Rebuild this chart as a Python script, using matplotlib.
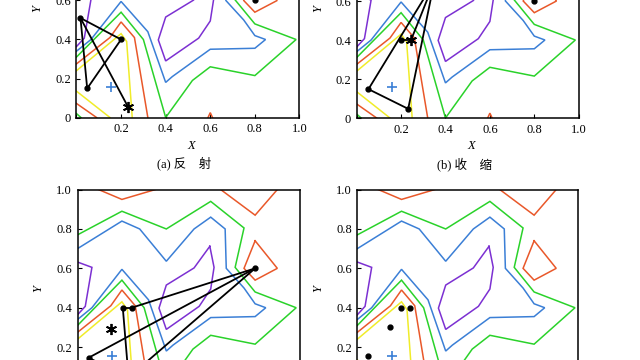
import matplotlib
matplotlib.use('Agg')
import matplotlib.pyplot as plt

plt.rcParams['font.family'] = ['Liberation Serif', 'Noto Sans CJK SC']
plt.rcParams['mathtext.fontset'] = 'stix'

PURPLE = '#7c30d2'
BLUE = '#3b7fd6'
GREEN = '#2ad22a'
ORANGE = '#e9582a'
YELLOW = '#f0ec2a'

# contour lines of the objective, same map in all four panels
purple_left_x = [0, 0.065, 0.035, 0]
purple_left_y = [0.632, 0.605, 0.407, 0.364]
purple_mid_x = [0.596, 0.615, 0.6, 0.548, 0.4, 0.367, 0.4, 0.525, 0.596]
purple_mid_y = [0.712, 0.605, 0.495, 0.407, 0.29, 0.398, 0.515, 0.602, 0.712]

blue_x = [0, 0.065, 0.2, 0.32, 0.40, 0.43, 0.6, 0.8, 0.848, 0.80, 0.75, 0.67, 0.665, 0.6, 0.525, 0.40, 0.28, 0.2, 0]
blue_y = [0.34, 0.40, 0.595, 0.44, 0.18, 0.21, 0.35, 0.355, 0.40, 0.42, 0.50, 0.60, 0.80, 0.86, 0.80, 0.636, 0.80, 0.84, 0.70]

green_x = [0, 0.2, 0.30, 0.40, 0.52, 0.6, 0.8, 0.985, 0.80, 0.71, 0.75, 0.6, 0.4, 0.2, 0]
green_y = [0.31, 0.54, 0.40, 0.0, 0.19, 0.26, 0.215, 0.40, 0.48, 0.605, 0.805, 0.94, 0.80, 0.89, 0.77]
green_corner_x = [0, 0.02]
green_corner_y = [0.02, 0]

orange_x = [0, 0.15, 0.2, 0.26, 0.32]
orange_y = [0.275, 0.41, 0.49, 0.41, 0.0]
orange_corner_x = [0, 0.09]
orange_corner_y = [0.072, 0]
orange_tl_x = [0.095, 0.2, 0.35]
orange_tl_y = [1.0, 0.95, 1.0]
orange_tr_x = [0.645, 0.8, 0.9]
orange_tr_y = [1.0, 0.87, 1.0]
orange_tri_x = [0.8, 0.9, 0.8, 0.75, 0.8]
orange_tri_y = [0.74, 0.6, 0.54, 0.6, 0.74]
orange_bot_x = [0.59, 0.6, 0.61]
orange_bot_y = [0, 0.025, 0]

yellow_x = [0, 0.2, 0.225, 0.25]
yellow_y = [0.24, 0.43, 0.39, 0.0]
yellow_corner_x = [0, 0.15]
yellow_corner_y = [0.135, 0]

# optimum (+) and far vertex
opt_x, opt_y = 0.157, 0.157
far_x, far_y = 0.8, 0.6

# (a) reflection
a_vx = [0.018, 0.2, 0.048]
a_vy = [0.51, 0.40, 0.149]
a_star = (0.231, 0.055)

# (b) contraction
b_vx = [0.35, 0.053, 0.232]
b_vy = [0.70, 0.148, 0.047]
b_star = (0.245, 0.40)
b_dot = (0.2, 0.40)

# (c)
c_dx = [0.8, 0.204, 0.244, 0.05, 0.23]
c_dy = [0.6, 0.40, 0.40, 0.146, 0.046]
c_star = (0.15, 0.29)

# (d)
d_dx = [0.198, 0.238, 0.148, 0.05]
d_dy = [0.40, 0.40, 0.30, 0.153]

contours = [
    (purple_left_x, purple_left_y, PURPLE), (purple_mid_x, purple_mid_y, PURPLE),
    (blue_x, blue_y, BLUE),
    (green_x, green_y, GREEN), (green_corner_x, green_corner_y, GREEN),
    (orange_x, orange_y, ORANGE), (orange_corner_x, orange_corner_y, ORANGE),
    (orange_tl_x, orange_tl_y, ORANGE), (orange_tr_x, orange_tr_y, ORANGE),
    (orange_tri_x, orange_tri_y, ORANGE), (orange_bot_x, orange_bot_y, ORANGE),
    (yellow_x, yellow_y, YELLOW), (yellow_corner_x, yellow_corner_y, YELLOW),
]

ticks = [0, 0.2, 0.4, 0.6, 0.8, 1.0]
xlabels = ['', '0.2', '0.4', '0.6', '0.8', '1.0']
ylabels = ['0', '0.2', '0.4', '0.6', '0.8', '1.0']

STAR = (6, 2, 0)


def setup(ax, ylab_y=0.5, ylab_x=-0.175, caption=None):
    for xs, ys, col in contours:
        ax.plot(xs, ys, color=col, lw=1.1, solid_joinstyle='miter', zorder=2)
    ax.plot(opt_x, opt_y, marker='+', color=BLUE, ms=7, mew=1.2, zorder=4)
    ax.set_xlim(0, 1)
    ax.set_ylim(0, 1)
    ax.set_xticks(ticks)
    ax.set_xticklabels(xlabels)
    ax.set_yticks(ticks)
    ax.set_yticklabels(ylabels)
    ax.tick_params(direction='in', length=3, width=0.8, labelsize=9, pad=4)
    for s in ax.spines.values():
        s.set_linewidth(1.1)
    ax.text(0.515, -0.145, 'X', transform=ax.transAxes, ha='center', va='center',
            fontsize=9, style='italic')
    ax.text(ylab_x, ylab_y, 'Y', transform=ax.transAxes, ha='center', va='center',
            fontsize=9, style='italic', rotation=90)
    if caption:
        ax.text(0.485, -0.237, caption, transform=ax.transAxes, ha='center',
                va='center', fontsize=9)


def dots(ax, xs, ys):
    ax.plot(xs, ys, 'o', color='black', ms=3.5, zorder=5)


def seg(ax, p, q):
    ax.plot([p[0], q[0]], [p[1], q[1]], color='black', lw=1.3, zorder=3)


fig = plt.figure(figsize=(6.4, 3.6), dpi=100)
ax_a = fig.add_axes([0.1195, 0.6736, 0.3484, 0.5417])
ax_b = fig.add_axes([0.5573, 0.6722, 0.3469, 0.5417])
ax_c = fig.add_axes([0.1211, -0.0736, 0.3469, 0.547])
ax_d = fig.add_axes([0.5583, -0.0736, 0.3453, 0.547])

# (a)
setup(ax_a, ylab_y=0.56, caption='(a) 反　射')
pa = list(zip(a_vx, a_vy))
seg(ax_a, pa[0], pa[1])
seg(ax_a, pa[1], pa[2])
seg(ax_a, pa[2], pa[0])
seg(ax_a, pa[0], a_star)
dots(ax_a, a_vx + [far_x], a_vy + [far_y])
ax_a.plot(*a_star, marker=STAR, color='black', ms=8, mew=1.3, zorder=5)

# (b)
setup(ax_b, ylab_y=0.56, caption='(b) 收　缩')
pb = list(zip(b_vx, b_vy))
seg(ax_b, pb[0], pb[1])
seg(ax_b, pb[1], pb[2])
seg(ax_b, pb[2], pb[0])
seg(ax_b, pb[0], b_star)
seg(ax_b, b_star, b_dot)
dots(ax_b, b_vx + [b_dot[0], far_x], b_vy + [b_dot[1], far_y])
ax_b.plot(*b_star, marker=STAR, color='black', ms=8, mew=1.3, zorder=5)

# (c)
setup(ax_c)
pc = list(zip(c_dx, c_dy))
seg(ax_c, pc[0], pc[2])
seg(ax_c, pc[0], pc[3])
seg(ax_c, pc[0], pc[4])
seg(ax_c, pc[1], pc[2])
seg(ax_c, pc[1], pc[4])
seg(ax_c, pc[3], pc[4])
dots(ax_c, c_dx, c_dy)
ax_c.plot(*c_star, marker=STAR, color='black', ms=8, mew=1.3, zorder=5)

# (d)
setup(ax_d, ylab_x=-0.178)
dots(ax_d, d_dx, d_dy)

fig.savefig('out.png', dpi=100)
plt.close('all')
